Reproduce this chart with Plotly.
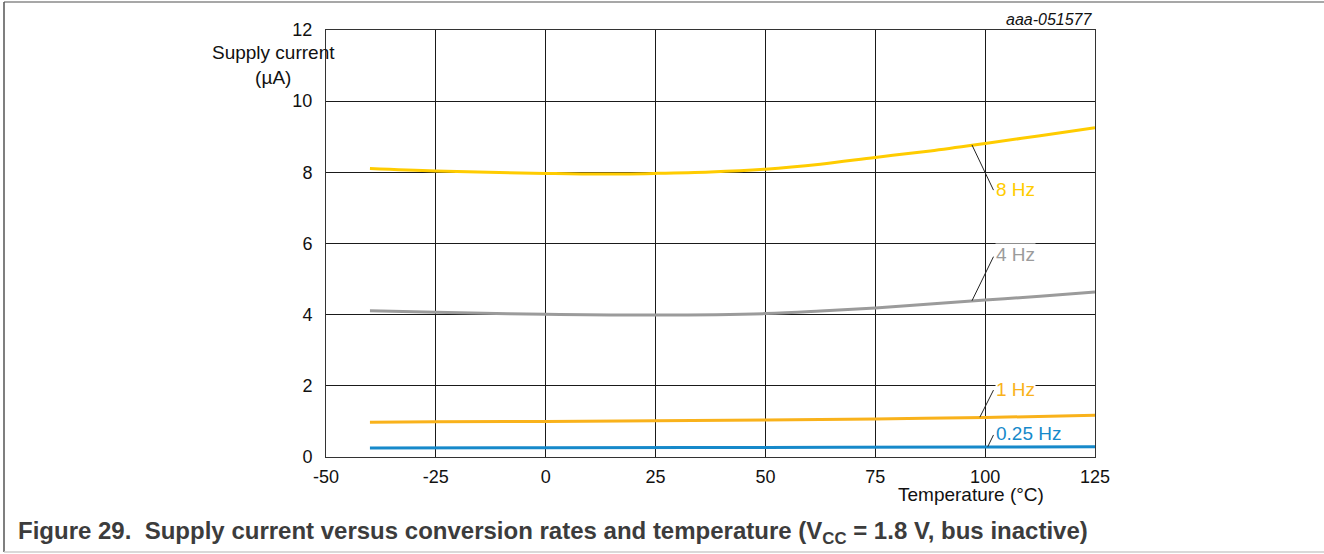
import plotly.graph_objects as go

# ---- data ----
temp_8hz = [-40, -25, 0, 12.5, 25, 37.5, 50, 62.5, 75, 87.5, 100, 112.5, 125]
cur_8hz = [8.11, 8.04, 7.97, 7.95, 7.97, 8.01, 8.09, 8.23, 8.42, 8.60, 8.81, 9.03, 9.25]

temp_4hz = [-40, -25, 0, 25, 50, 62.5, 75, 87.5, 100, 112.5, 125]
cur_4hz = [4.11, 4.07, 4.01, 3.99, 4.03, 4.10, 4.19, 4.30, 4.41, 4.52, 4.64]

temp_1hz = [-40, -25, 0, 25, 50, 75, 100, 125]
cur_1hz = [0.98, 0.99, 1.00, 1.02, 1.04, 1.07, 1.11, 1.17]

temp_025hz = [-40, 0, 50, 100, 125]
cur_025hz = [0.25, 0.26, 0.27, 0.28, 0.29]

x_ticks = [-50, -25, 0, 25, 50, 75, 100, 125]
x_tick_labels = ["-50", "-25", "0", "25", "50", "75", "100", "125"]
y_ticks = [0, 2, 4, 6, 8, 10, 12]

series = [
    ("8 Hz", temp_8hz, cur_8hz, "#FFCC00"),
    ("4 Hz", temp_4hz, cur_4hz, "#9B9B9B"),
    ("1 Hz", temp_1hz, cur_1hz, "#F9B21B"),
    ("0.25 Hz", temp_025hz, cur_025hz, "#1689CA"),
]

# label callouts: (name, x on curve, y on curve, line end x, line end y, label y)
callouts = [
    ("8 Hz", 97.0, 8.77, 101.9, 7.50, 7.53),
    ("4 Hz", 97.0, 4.39, 101.9, 5.63, 5.68),
    ("1 Hz", 98.8, 1.12, 101.9, 1.88, 1.91),
    ("0.25 Hz", 100.6, 0.29, 101.9, 0.62, 0.67),
]

FONT = "Liberation Sans, Arial, sans-serif"
W, H = 1324, 554
ML, MR, MT, MB = 326, 229, 30, 97
plot_w = W - ML - MR
plot_h = H - MT - MB


def px2paper(px, py):
    return (px - ML) / plot_w, (H - MB - py) / plot_h


fig = go.Figure()
for name, xs, ys, col in series:
    fig.add_trace(go.Scatter(x=xs, y=ys, mode="lines", name=name,
                             line=dict(color=col, width=3, shape="spline"),
                             showlegend=False, hoverinfo="skip"))

colors = {s[0]: s[3] for s in series}
for name, cx, cy, lx, ly, ty in callouts:
    fig.add_shape(type="line", x0=cx, y0=cy, x1=lx, y1=ly, xref="x", yref="y",
                  line=dict(color="#222222", width=1))
    fig.add_annotation(x=lx, y=ty, xref="x", yref="y", text=name, showarrow=False,
                       xanchor="left", yanchor="middle", xshift=2,
                       font=dict(family=FONT, size=19, color=colors[name]),
                       bgcolor="white", borderpad=0)

# axis titles and tag
fig.add_annotation(x=-50, y=12, xref="x", yref="y", text="Supply current<br>(µA)",
                   showarrow=False, xanchor="center", yanchor="middle", xshift=-53, yshift=-35,
                   font=dict(family=FONT, size=19, color="#111"), align="center")
fig.add_annotation(x=100, y=0, xref="x", yref="y", text="Temperature (°C)",
                   showarrow=False, xanchor="center", yanchor="middle", xshift=-14, yshift=-37,
                   font=dict(family=FONT, size=19, color="#111"))
fig.add_annotation(x=125, y=12, xref="x", yref="y", text="<i>aaa-051577</i>",
                   showarrow=False, xanchor="right", yanchor="middle", yshift=11,
                   font=dict(family=FONT, size=16, color="#111"))

# caption
cx0, cy0 = px2paper(16, 532)
fig.add_annotation(x=cx0, y=cy0, xref="paper", yref="paper", text=
                   "<b>Figure 29.  Supply current versus conversion rates and temperature "
                   "(V<sub>CC</sub> = 1.8 V, bus inactive)</b>",
                   showarrow=False, xanchor="left", yanchor="middle",
                   font=dict(family=FONT, size=24, color="#3c3c3c"))

fig.update_layout(
    width=W, height=H,
    margin=dict(l=ML, r=MR, t=MT, b=MB),
    paper_bgcolor="white", plot_bgcolor="white",
    xaxis=dict(range=[-50, 125], tickvals=x_ticks, ticktext=x_tick_labels,
               showgrid=True, gridcolor="#1a1a1a",
               gridwidth=1, zeroline=False, showline=True, linecolor="#333", mirror=True,
               ticks="", tickfont=dict(family=FONT, size=18, color="#111"),
               ticklabelstandoff=3),
    yaxis=dict(range=[0, 12], tickvals=y_ticks, showgrid=True, gridcolor="#1a1a1a",
               gridwidth=1, zeroline=False, showline=True, linecolor="#333", mirror=True,
               ticks="", tickfont=dict(family=FONT, size=18, color="#111"),
               ticklabelstandoff=9),
)

# outer frame
x0, y0 = px2paper(4, 2)
x1, y1 = px2paper(1324, 552)
fig.add_shape(type="line", xref="paper", yref="paper", x0=x0, y0=y0, x1=x1, y1=y0,
              line=dict(color="#8a8a8a", width=1.5))
fig.add_shape(type="line", xref="paper", yref="paper", x0=x0, y0=y0, x1=x0, y1=y1,
              line=dict(color="#555", width=1.5))
fig.add_shape(type="line", xref="paper", yref="paper", x0=x0, y0=y1, x1=x1, y1=y1,
              line=dict(color="#cccccc", width=1.5))

fig.write_html("out.html", config={"displayModeBar": False},
               post_script="document.body.style.margin='0';document.body.style.overflow='hidden';")
